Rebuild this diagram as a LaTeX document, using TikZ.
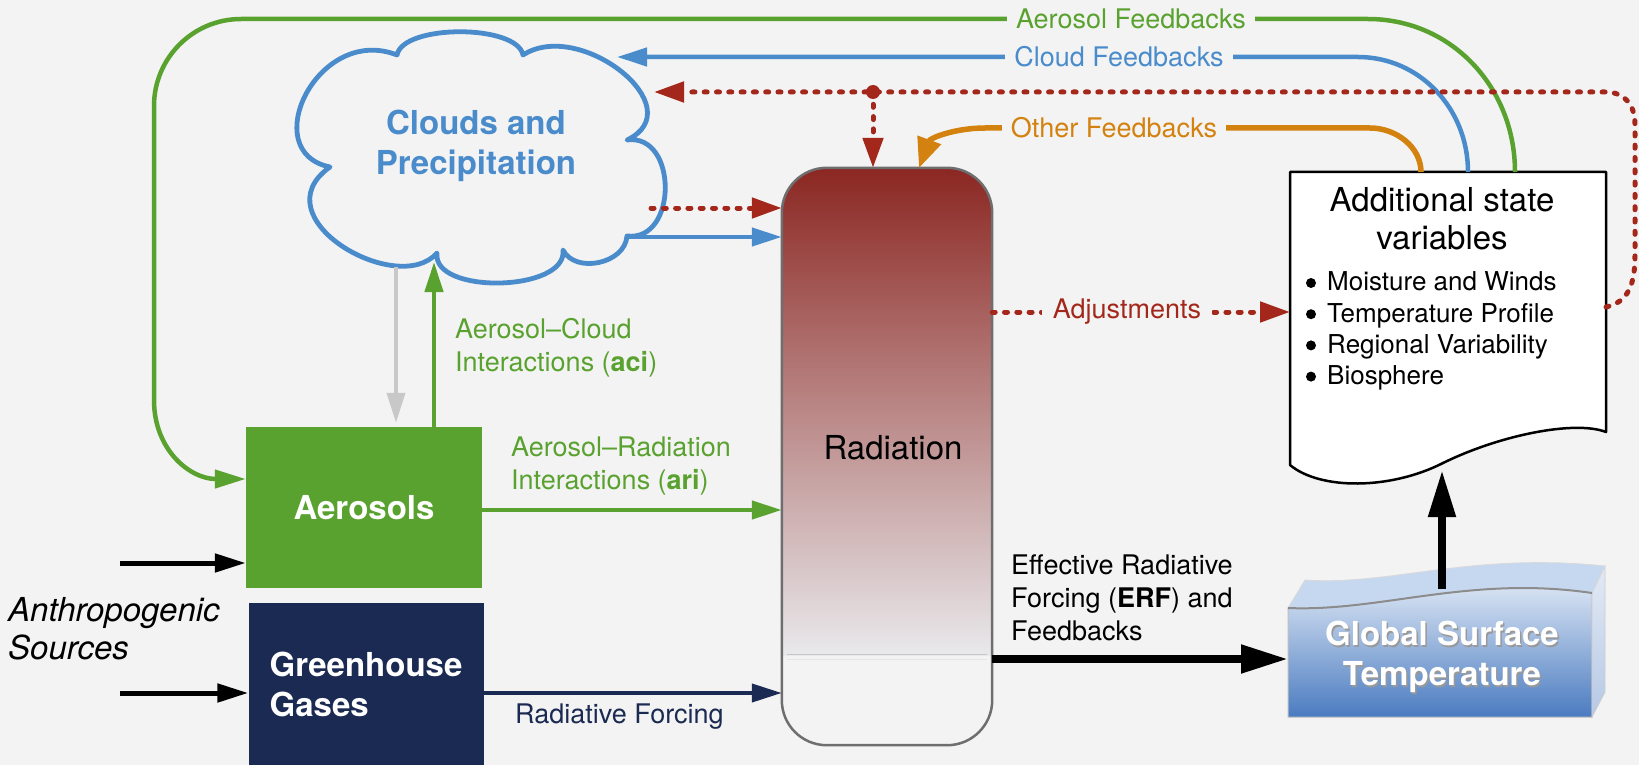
\documentclass[tikz,border=0pt]{standalone}
\usepackage{fontspec}
\setmainfont{TeX Gyre Heros}
\usetikzlibrary{arrows.meta}
\definecolor{bg}{HTML}{F3F3F3}
\definecolor{cgreen}{HTML}{5AA22F}
\definecolor{cblue}{HTML}{4A8CCB}
\definecolor{cred}{HTML}{A3281B}
\definecolor{corange}{HTML}{D4820F}
\definecolor{cnavy}{HTML}{1B2A52}
\definecolor{cgray}{HTML}{C8C8C8}
\definecolor{radtop}{HTML}{8B2722}
\definecolor{radmid}{HTML}{BDAAAE}
\definecolor{radlow}{HTML}{E9E9EC}
\definecolor{radborder}{HTML}{6E6E6E}
\definecolor{gsttop}{HTML}{E4ECF7}
\definecolor{gstmid}{HTML}{A7BFE2}
\definecolor{gstbot}{HTML}{4A7BC0}
\definecolor{gstlid}{HTML}{C6D8F0}
\definecolor{gstsidetop}{HTML}{E3EAF5}
\definecolor{gstside}{HTML}{B5C8E6}
\begin{document}
\begin{tikzpicture}[x=1pt,y=-1pt,
  txtbig/.style={font=\fontsize{33}{40}\selectfont},
  txtbigb/.style={font=\fontsize{33}{40}\selectfont\bfseries},
  txtsmall/.style={font=\fontsize{27}{32.5}\selectfont},
  fblabel/.style={txtsmall, fill=bg, inner xsep=9pt, inner ysep=1pt},
  fbline/.style={line width=4.5pt},
  dotred/.style={cred, line width=5pt, dash pattern=on 3pt off 9.3pt, line cap=round},
  tipm/.style={-{Triangle[length=30pt,width=18pt]}},
  tipr/.style={-{Triangle[length=30pt,width=20pt]}},
  tipbig/.style={-{Triangle[length=47pt,width=27pt]}}
]
\fill[bg] (0,0) rectangle (1639,765);
\useasboundingbox (0,0) rectangle (1639,765);

% ---------- boxes ----------
\node[fill=cgreen, minimum width=236pt, minimum height=161pt, inner sep=0,
      text=white, txtbigb] (aer) at (364,507.5) {Aerosols};
\node[fill=cnavy, minimum width=235pt, minimum height=162pt, inner sep=0,
      text=white, align=left, txtbigb] (ghg) at (366,684) {Greenhouse\\Gases};
\node[anchor=west, font=\fontsize{33}{38}\selectfont\itshape, align=left, inner sep=0]
      (anth) at (8,629) {Anthropogenic\\Sources};

% Radiation
\node[minimum width=210pt, minimum height=577pt, inner sep=0] (rad) at (887,456.5) {};
\begin{scope}
  \clip[rounded corners=45pt] (rad.north west) rectangle (rad.south east);
  \shade[top color=radtop, middle color=radmid, bottom color=radlow]
        (rad.north west) rectangle (992,656);
  \fill[bg] (782,656) rectangle (rad.south east);
  \draw[line width=1.2pt, color=black!22] (787,654.5) -- (987,654.5);
  \draw[line width=1pt, color=black!10] (787,659.5) -- (987,659.5);
\end{scope}
\draw[line width=2.5pt, draw=radborder, rounded corners=45pt]
      (rad.north west) rectangle (rad.south east);
\node[txtbig] (radtxt) at (893,448) {Radiation};

% Cloud
\draw[cblue, line width=4.8pt, fill=bg, line join=round]
  (397,55) .. controls (403,24) and (517,24) .. (523,55)
  .. controls (580,18) and (694,108) .. (627,140)
  .. controls (678,133) and (678,242) .. (627,236)
  .. controls (625,264) and (575,274) .. (563,250)
  .. controls (568,292) and (432,295) .. (437,253)
  .. controls (398,298) and (258,218) .. (330,167)
  .. controls (256,152) and (318,24) .. (397,55) -- cycle;
\node[txtbigb, text=cblue, align=center] (cloud) at (476,146) {Clouds and\\Precipitation};

% Additional state variables (document shape)
\draw[line width=2.5pt, fill=white, line join=round]
  (1290,172) -- (1606,172) -- (1606,432)
  .. controls (1575,420) and (1500,435) .. (1443,463)
  .. controls (1390,490) and (1320,490) .. (1290,465) -- cycle;
\node[font=\fontsize{33}{38}\selectfont, align=center] (add) at (1442,219) {Additional state\\variables};
\node[font=\fontsize{26}{31.2}\selectfont, align=left, anchor=west, inner sep=0]
  (addlist) at (1327,331) {Moisture and Winds\\Temperature Profile\\Regional Variability\\Biosphere};
\foreach \yy in {283,314.2,345.4,376.6} \fill (1311,\yy) circle (5pt);

% Global Surface Temperature block
\shadedraw[top color=gsttop, middle color=gstmid, bottom color=gstbot, draw=black!25, line width=1pt]
  (1288,608) .. controls (1380,612) and (1470,575) .. (1592,593) -- (1592,717) -- (1288,717) -- cycle;
\shadedraw[top color=gstsidetop, bottom color=gstside, draw=black!20, line width=0.8pt]
  (1592,593) -- (1605,566) -- (1605,692) -- (1592,717) -- cycle;
\filldraw[fill=gstlid, draw=white!70!gray, line width=0.8pt]
  (1288,608) .. controls (1380,612) and (1470,575) .. (1592,593) -- (1605,566)
  .. controls (1470,552) and (1390,586) .. (1305,580) -- cycle;
\draw[black!45, line width=2pt] (1288,608) .. controls (1380,612) and (1470,575) .. (1592,593);
\node[txtbigb, text=black!40, align=center] (gstsh) at (1443.5,658.5) {Global Surface\\Temperature};
\node[txtbigb, text=white, align=center] (gst) at (1442,657) {Global Surface\\Temperature};

% ---------- coordinates ----------
\coordinate (srcA) at (120,563);
\coordinate (srcG) at (120,693);
\coordinate (ariY) at (0,510);
\coordinate (rfY) at (0,693);
\coordinate (aciTip) at (434,262);
\coordinate (grayS) at (396,267);
\coordinate (cdS) at (651,208);
\coordinate (cbS) at (628,237);
\coordinate (agS) at (1515,172);
\coordinate (cfS) at (1468,172);
\coordinate (ofS) at (1421,172);
\coordinate (adjR) at (1606,307);
\coordinate (junc) at (873,92);
\coordinate (redTip) at (654,92);
\coordinate (blueTip) at (617,57);
\coordinate (orTip) at (919,168);
\coordinate (adjY) at (0,312);
\coordinate (adjTip) at (1290,312);
\coordinate (erfY) at (0,659);
\coordinate (erfTip) at (1288,659);
\coordinate (upS) at (1442,589);
\coordinate (upTip) at (1442,470);
\coordinate (aerIn) at (0,479);

% ---------- connectors ----------
\draw[line width=5pt, -{Triangle[length=31pt,width=18pt]}] (srcA) -- (aer.west |- srcA);
\draw[line width=5pt, -{Triangle[length=31pt,width=18pt]}] (srcG) -- (ghg.west |- srcG);

\draw[cgreen, fbline, tipm] (aer.east |- ariY) -- (rad.west |- ariY);
\node[txtsmall, text=cgreen, anchor=west, align=left, inner sep=0] (arilbl) at (511,466)
  {Aerosol–Radiation\\Interactions (\textbf{ari})};

\draw[cnavy, line width=4pt, tipm] (ghg.east |- rfY) -- (rad.west |- rfY);
\node[txtsmall, text=cnavy, anchor=west, inner sep=0] (rflbl) at (515,717) {Radiative Forcing};

\draw[cgreen, fbline, tipm] (aer.north -| aciTip) -- (aciTip);
\node[txtsmall, text=cgreen, anchor=west, align=left, inner sep=0] (acilbl) at (455,348)
  {Aerosol–Cloud\\Interactions (\textbf{aci})};

\draw[cgray, line width=4pt, tipm, shorten >=4pt] (grayS) -- (aer.north -| grayS);

\draw[dotred, tipr] (cdS) -- (rad.west |- cdS);
\draw[cblue, fbline, tipm] (cbS) -- (rad.west |- cbS);

% feedback loops
\draw[cgreen, fbline, -{Triangle[length=31pt,width=18pt]}]
  (agS) .. controls (1515,87) and (1451,19) .. (1368,19) -- (241,19)
  .. controls (193,19) and (154,58) .. (154,106) -- (154,400)
  .. controls (154,450) and (190,479) .. (aer.west |- aerIn);
\draw[cblue, fbline, tipm]
  (cfS) .. controls (1468,108) and (1419,57) .. (1358,57) -- (blueTip);
\draw[corange, line width=5.5pt, -{Triangle[length=30pt,width=24pt]}]
  (ofS) .. controls (1421,147) and (1396,128) .. (1370,128) -- (985,128)
  .. controls (955,128) and (930,138) .. (orTip);
\draw[dotred, tipr]
  (adjR) .. controls (1628,302) and (1635,285) .. (1635,255) -- (1635,125)
  .. controls (1635,105) and (1625,92) .. (1605,92) -- (redTip);
\fill[cred] (junc) circle (7pt);
\draw[dotred, tipr] (junc) -- (rad.north -| junc);

\draw[dotred, tipr] (rad.east |- adjY) -- (adjTip);
\node[txtsmall, text=cred, fill=bg, inner xsep=11pt, inner ysep=2pt] (adjlbl) at (1127,312) {Adjustments};

\draw[line width=8pt, tipbig] (rad.east |- erfY) -- (erfTip);
\node[anchor=west, align=left, inner sep=0, font=\fontsize{27}{33}\selectfont] (erf) at (1011,598)
  {Effective Radiative\\Forcing (\textbf{ERF}) and\\Feedbacks};

\draw[line width=8pt, -{Triangle[length=47pt,width=26pt]}] (upS) -- (upTip);

% feedback labels
\node[fblabel, text=cgreen] (aflbl) at (1131,19) {Aerosol Feedbacks};
\node[fblabel, text=cblue] (cflbl) at (1119,57) {Cloud Feedbacks};
\node[fblabel, text=corange] (oflbl) at (1114,128) {Other Feedbacks};
\end{tikzpicture}
\end{document}
